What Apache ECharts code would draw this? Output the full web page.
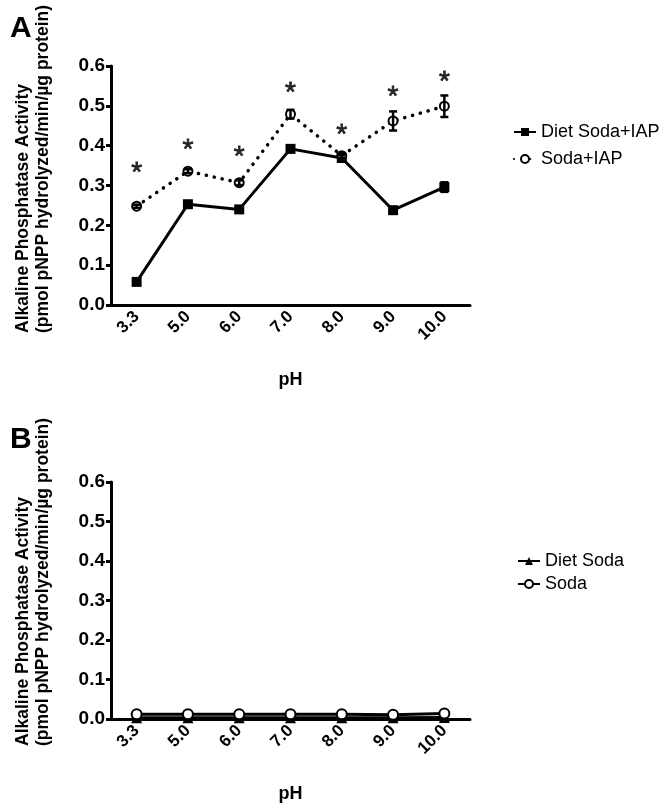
<!DOCTYPE html>
<html>
<head>
<meta charset="utf-8">
<script src="https://cdn.jsdelivr.net/npm/echarts@6/dist/echarts.min.js"></script>
<style>
html,body{margin:0;padding:0;background:#fff;}
#chart{width:671px;height:806px;}
</style>
</head>
<body>
<div id="chart"></div>
<script>
// ---- data ----
const categories = ['3.3','5.0','6.0','7.0','8.0','9.0','10.0'];
const yTicks = [0, 0.1, 0.2, 0.3, 0.4, 0.5, 0.6];
// Panel A
const dietSodaIAP    = [0.058, 0.253, 0.240, 0.392, 0.369, 0.238, 0.296];
const dietSodaIAPErr = [0.006, 0.005, 0.005, 0.008, 0.007, 0.005, 0.012];
const sodaIAP        = [0.248, 0.336, 0.307, 0.479, 0.375, 0.462, 0.499];
const sodaIAPErr     = [0.004, 0.005, 0.006, 0.011, 0.006, 0.024, 0.027];
const starLevels     = [0.345, 0.403, 0.386, 0.546, 0.440, 0.537, 0.573];
// Panel B
const dietSoda = [0.003, 0.003, 0.003, 0.003, 0.003, 0.003, 0.004];
const soda     = [0.012, 0.012, 0.012, 0.012, 0.012, 0.011, 0.014];

const FONT = 'Liberation Sans, Arial, Helvetica, sans-serif';
const chart = echarts.init(document.getElementById('chart'), null, {renderer:'canvas'});

function errData(vals, errs){ return vals.map((v,i)=>[i, v, errs[i]]); }
function errRender(params, api){
  const i = api.value(0), v = api.value(1), e = api.value(2);
  const hi = api.coord([i, v + e]);
  const lo = api.coord([i, v - e]);
  const w = 4;
  const st = {stroke:'#000', lineWidth:2.5};
  return {type:'group', children:[
    {type:'line', shape:{x1:hi[0], y1:hi[1], x2:lo[0], y2:lo[1]}, style:st},
    {type:'line', shape:{x1:hi[0]-w, y1:hi[1], x2:hi[0]+w, y2:hi[1]}, style:st},
    {type:'line', shape:{x1:lo[0]-w, y1:lo[1], x2:lo[0]+w, y2:lo[1]}, style:st}
  ]};
}

function xAxisOf(gi){
  return {
    type:'category', gridIndex:gi, data:categories, boundaryGap:true,
    name:'pH', nameLocation:'middle', nameGap:66,
    nameTextStyle:{fontFamily:FONT, fontWeight:'bold', fontSize:18, color:'#000'},
    axisLine:{lineStyle:{color:'#000', width:3}},
    axisTick:{alignWithLabel:true, length:5, lineStyle:{width:3, color:'#000'}},
    axisLabel:{rotate:45, margin:9, fontFamily:FONT, fontWeight:'bold', fontSize:17, color:'#000'},
    splitLine:{show:false}
  };
}
function yAxisOf(gi){
  return {
    type:'value', gridIndex:gi, min:0, max:0.6, interval:0.1,
    axisLine:{show:true, lineStyle:{color:'#000', width:3}},
    axisTick:{show:true, length:5, lineStyle:{width:3, color:'#000'}},
    axisLabel:{margin:6, fontFamily:FONT, fontWeight:'bold', fontSize:19, color:'#000',
      formatter:(v)=>{ const t = yTicks.find(x=>Math.abs(x-v)<1e-9); return (t===undefined? v : t).toFixed(1); }},
    splitLine:{show:false}
  };
}

const yTitle = 'Alkaline Phosphatase Activity\n(pmol pNPP hydrolyzed/min/\u00b5g protein)';

const option = {
  backgroundColor:'#fff',
  animation:false,
  grid:[
    {left:111, top:66, width:359, height:239},
    {left:111, top:482, width:359, height:237}
  ],
  xAxis:[xAxisOf(0), xAxisOf(1)],
  yAxis:[yAxisOf(0), yAxisOf(1)],
  legend:[
    {data:['Diet Soda+IAP','Soda+IAP'], orient:'vertical', left:508, top:118, itemGap:9,
     itemWidth:22, itemHeight:10,
     textStyle:{fontFamily:FONT, fontSize:18, color:'#000'}},
    {data:['Diet Soda','Soda'], orient:'vertical', left:512, top:547, itemGap:5,
     itemWidth:22, itemHeight:10,
     textStyle:{fontFamily:FONT, fontSize:18, color:'#000'}}
  ],
  graphic:[
    {type:'text', left:10, top:14, style:{text:'A', font:'bold 30px '+FONT, fill:'#000'}},
    {type:'text', left:10, top:425, style:{text:'B', font:'bold 30px '+FONT, fill:'#000'}},
    {type:'text', x:33, y:333, rotation:Math.PI/2,
     style:{text:yTitle, font:'bold 17.5px '+FONT, fill:'#000', align:'left', verticalAlign:'middle', lineHeight:20}},
    {type:'text', x:33, y:746, rotation:Math.PI/2,
     style:{text:yTitle, font:'bold 17.5px '+FONT, fill:'#000', align:'left', verticalAlign:'middle', lineHeight:20}}
  ],
  series:[
    {name:'Diet Soda+IAP', type:'line', xAxisIndex:0, yAxisIndex:0, data:dietSodaIAP,
     symbol:'rect', symbolSize:10, itemStyle:{color:'#000'},
     lineStyle:{color:'#000', width:3}, z:3},
    {name:'Soda+IAP', type:'line', xAxisIndex:0, yAxisIndex:0, data:sodaIAP,
     symbol:'emptyCircle', symbolSize:9, itemStyle:{color:'#000', borderWidth:2.5},
     lineStyle:{color:'#000', width:3.5, type:[0.1, 8], cap:'round'}, z:3},
    {type:'custom', xAxisIndex:0, yAxisIndex:0, renderItem:errRender,
     data:errData(dietSodaIAP, dietSodaIAPErr), encode:{x:0, y:1}, z:4},
    {type:'custom', xAxisIndex:0, yAxisIndex:0, renderItem:errRender,
     data:errData(sodaIAP, sodaIAPErr), encode:{x:0, y:1}, z:4},
    {type:'scatter', xAxisIndex:0, yAxisIndex:0, data:starLevels,
     symbolSize:1, itemStyle:{color:'rgba(0,0,0,0)'}, silent:true,
     label:{show:true, position:'inside', formatter:'*', fontFamily:FONT, fontWeight:'normal', fontSize:28, color:'#000',
            textBorderColor:'#000', textBorderWidth:0.8, offset:[0,6]}},
    {name:'Diet Soda', type:'line', xAxisIndex:1, yAxisIndex:1, data:dietSoda,
     symbol:'triangle', symbolSize:11, itemStyle:{color:'#000'},
     lineStyle:{color:'#000', width:3}, z:3},
    {name:'Soda', type:'line', xAxisIndex:1, yAxisIndex:1, data:soda,
     symbol:'emptyCircle', symbolSize:10, itemStyle:{color:'#000', borderWidth:2.5},
     lineStyle:{color:'#000', width:3}, z:3}
  ]
};
chart.setOption(option);
</script>
</body>
</html>
